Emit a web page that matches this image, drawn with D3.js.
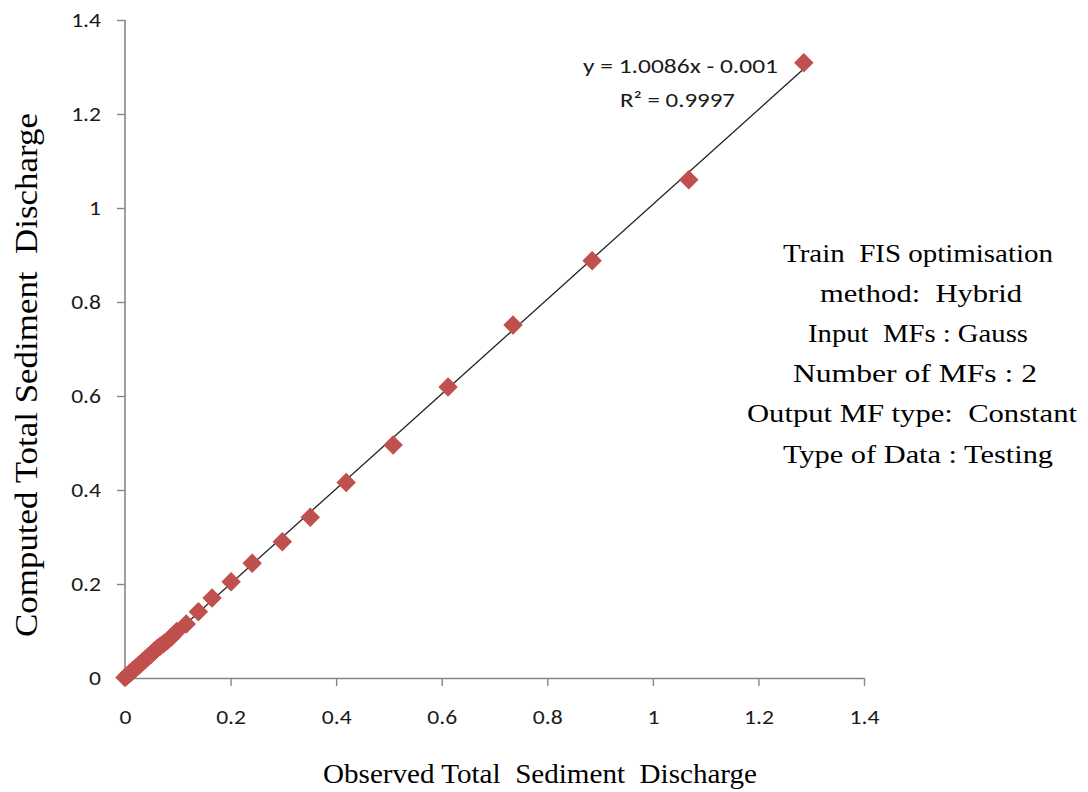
<!DOCTYPE html>
<html>
<head>
<meta charset="utf-8">
<script src="https://cdn.jsdelivr.net/npm/d3@7"></script>
<style>
  html, body { margin: 0; padding: 0; background: #fff; }
  svg { display: block; }
  text { white-space: pre; }
</style>
</head>
<body>
<svg id="chart" width="1088" height="792"></svg>
<script>
// ---- data ----
const observed = [0.000,0.004,0.008,0.012,0.016,0.020,0.024,0.029,0.034,0.039,0.044,0.049,0.055,0.061,0.067,0.073,0.080,0.087,0.098,0.116,0.139,0.165,0.201,0.241,0.298,0.351,0.419,0.508,0.612,0.735,0.885,1.068,1.286];
const computed = [0.001,0.005,0.009,0.013,0.017,0.021,0.025,0.030,0.035,0.040,0.045,0.050,0.057,0.063,0.068,0.073,0.079,0.086,0.099,0.115,0.141,0.170,0.205,0.244,0.290,0.342,0.416,0.496,0.619,0.751,0.888,1.060,1.309];
const xTicks = [0, 0.2, 0.4, 0.6, 0.8, 1, 1.2, 1.4];
const yTicks = [0, 0.2, 0.4, 0.6, 0.8, 1, 1.2, 1.4];
const trendSlope = 1.0086;
const trendIntercept = -0.001;
const trendRange = [0, 1.286];
const equationLines = ["y = 1.0086x - 0.001", "R\u00B2 = 0.9997"];
const noteLines = [
  "Train  FIS optimisation",
  "method:  Hybrid",
  "Input  MFs : Gauss",
  "Number of MFs : 2",
  "Output MF type:  Constant",
  "Type of Data : Testing"
];
const xTitle = "Observed Total  Sediment  Discharge";
const yTitle = "Computed Total Sediment  Discharge";

// ---- layout ----
const svg = d3.select("#chart");
const L = 125, R = 864, T = 20, B = 678;
const x = d3.scaleLinear().domain([0, 1.4]).range([L, R]);
const y = d3.scaleLinear().domain([0, 1.4]).range([B, T]);
const axisColor = "#868686";
const tickFont = "Carlito, Lato, 'Liberation Sans', sans-serif";
const serif = "'Liberation Serif', 'Times New Roman', serif";
const hStretch = 1.18;

// axes
const fmt = d => String(+d.toFixed(1));
const xAxis = svg.append("g").attr("transform", `translate(0,${B})`)
  .call(d3.axisBottom(x).tickValues(xTicks).tickFormat(fmt).tickSizeInner(8).tickSizeOuter(0).tickPadding(24));
const yAxis = svg.append("g").attr("transform", `translate(${L},0)`)
  .call(d3.axisLeft(y).tickValues(yTicks).tickFormat(fmt).tickSizeInner(8).tickSizeOuter(0).tickPadding(16));
[xAxis, yAxis].forEach(g => {
  g.select(".domain").attr("stroke", axisColor).attr("stroke-width", 1.6);
  g.selectAll(".tick line").attr("stroke", axisColor).attr("stroke-width", 1.4);
  g.selectAll(".tick text").attr("fill", "#1a1a1a").style("font-family", tickFont).style("font-size", "20px")
    .each(function() {
      const w = this.getComputedTextLength();
      d3.select(this).attr("textLength", w * hStretch).attr("lengthAdjust", "spacingAndGlyphs");
    });
});
yAxis.select(".domain").attr("d", `M0,${T}V${B}`);

// trend line
svg.append("line")
  .attr("x1", x(trendRange[0])).attr("y1", y(trendSlope * trendRange[0] + trendIntercept))
  .attr("x2", x(trendRange[1])).attr("y2", y(trendSlope * trendRange[1] + trendIntercept))
  .attr("stroke", "#222").attr("stroke-width", 1.3);

// points (diamonds = rotated squares)
const pts = observed.map((o, i) => ({ o, c: computed[i] }));
const sym = d3.symbol().type(d3.symbolSquare).size(190);
svg.append("g").selectAll("path").data(pts).join("path")
  .attr("d", sym)
  .attr("transform", d => `translate(${x(d.o)},${y(d.c)}) rotate(45)`)
  .attr("fill", "#C0504D");

// trend equation
const eqPos = [{x: 583, y: 73, w: 195}, {x: 620, y: 107, w: 115}];
svg.append("g").selectAll("text").data(equationLines).join("text")
  .attr("x", (d, i) => eqPos[i].x).attr("y", (d, i) => eqPos[i].y)
  .attr("textLength", (d, i) => eqPos[i].w).attr("lengthAdjust", "spacingAndGlyphs")
  .style("font-family", tickFont).style("font-size", "21px").attr("fill", "#1a1a1a")
  .text(d => d);

// annotation block
const noteX = [783, 820, 808, 793, 747, 783];
const noteW = [270, 202, 220, 244, 330, 270];
svg.append("g").selectAll("text").data(noteLines).join("text")
  .attr("x", (d, i) => noteX[i]).attr("y", (d, i) => 262 + i * 40.1)
  .attr("textLength", (d, i) => noteW[i]).attr("lengthAdjust", "spacingAndGlyphs")
  .style("font-family", serif).style("font-size", "26px").attr("fill", "#000")
  .text(d => d);

// axis titles
svg.append("text").attr("x", 323).attr("y", 783)
  .attr("textLength", 434).attr("lengthAdjust", "spacingAndGlyphs")
  .style("font-family", serif).style("font-size", "28px").attr("fill", "#000")
  .text(xTitle);
svg.append("text").attr("transform", `translate(37,637) rotate(-90)`)
  .attr("textLength", 524).attr("lengthAdjust", "spacingAndGlyphs")
  .style("font-family", serif).style("font-size", "31px").attr("fill", "#000")
  .text(yTitle);
</script>
</body>
</html>
